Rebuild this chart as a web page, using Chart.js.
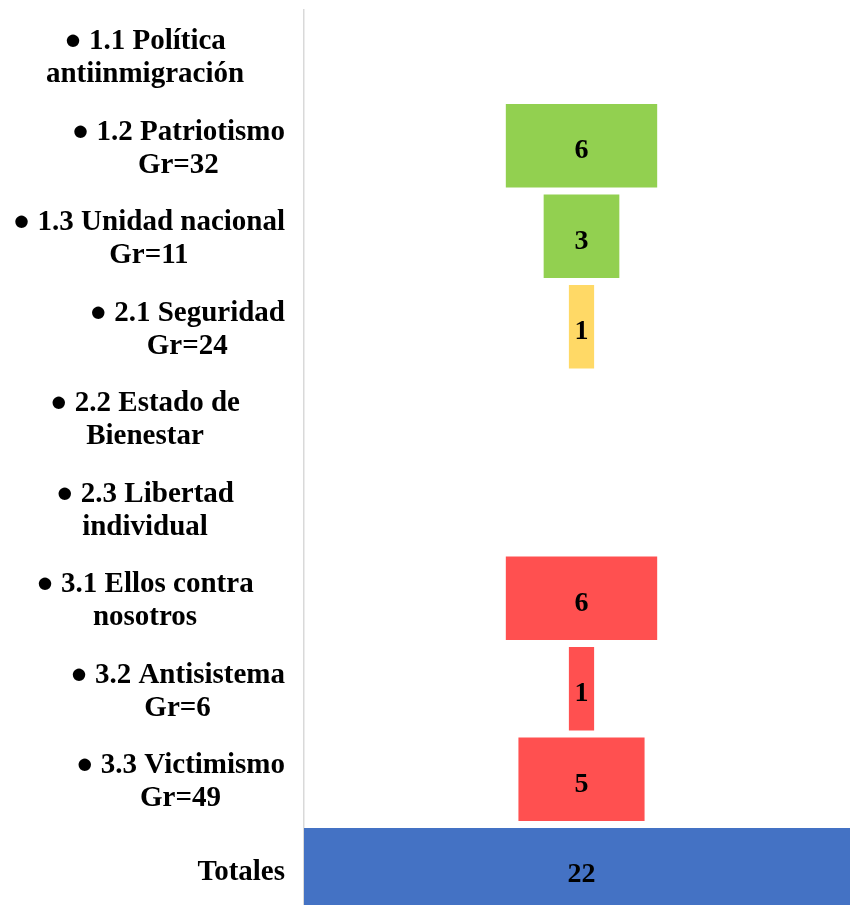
<!DOCTYPE html>
<html lang="es">
<head>
<meta charset="utf-8">
<title>Embudo de categorías</title>
<script src="https://cdn.jsdelivr.net/npm/chart.js@4.4.0/dist/chart.umd.min.js"></script>
<style>
  html, body { margin: 0; padding: 0; background: #fff; overflow: hidden; }
  #wrap { position: relative; width: 870px; height: 925px; }
</style>
</head>
<body>
<div id="wrap"><canvas id="chart"></canvas></div>
<script>
// categories (a "\n" is a hard line break, long ones wrap on their own)
const categories = [
  '● 1.1 Política antiinmigración',
  '● 1.2 Patriotismo\nGr=32',
  '● 1.3 Unidad nacional\nGr=11',
  '● 2.1 Seguridad\nGr=24',
  '● 2.2 Estado de Bienestar',
  '● 2.3 Libertad individual',
  '● 3.1 Ellos contra nosotros',
  '● 3.2 Antisistema\nGr=6',
  '● 3.3 Victimismo\nGr=49',
  'Totales'
]
const values = [0, 6, 3, 1, 0, 0, 6, 1, 5, 22]
const groups = ['1', '1', '1', '2', '2', '2', '3', '3', '3', 'total']

const groupColors = { '1': '#92D050', '2': '#FFD966', '3': '#FF5050', total: '#4472C4' }
const labelFont = 'bold 29px "Liberation Serif", "Times New Roman", serif'
const valueFont = 'bold 28px "Liberation Serif", "Times New Roman", serif'
const labelRight = 285
const wrapWidth = 280
const lineGap = 33

const total = Math.max(...values)
// funnel: every bar floats centred on the middle of the scale
const funnelData = values.map(v => [(total - v) / 2, (total + v) / 2])

function wrapLabel(ctx, text) {
  const parts = text.split('\n')
  if (parts.length > 1) return { lines: parts, wrapped: false }
  if (ctx.measureText(text).width <= wrapWidth) return { lines: [text], wrapped: false }
  const lines = []
  let cur = ''
  text.split(' ').forEach(w => {
    const test = cur ? cur + ' ' + w : w
    if (cur && ctx.measureText(test).width > wrapWidth) {
      lines.push(cur)
      cur = w
    } else {
      cur = test
    }
  })
  lines.push(cur)
  return { lines, wrapped: true }
}

const categoryLabels = {
  id: 'categoryLabels',
  afterDraw(chart) {
    const { ctx, scales: { y } } = chart
    ctx.save()
    ctx.font = labelFont
    ctx.fillStyle = '#000'
    ctx.textAlign = 'center'
    ctx.textBaseline = 'alphabetic'
    categories.forEach((text, i) => {
      const { lines, wrapped } = wrapLabel(ctx, text)
      const widest = Math.max(...lines.map(l => ctx.measureText(l).width))
      const cx = wrapped ? labelRight - wrapWidth / 2 : labelRight - widest / 2
      const cy = y.getPixelForValue(i)
      lines.forEach((line, j) => {
        const ly = cy + (j - (lines.length - 1) / 2) * lineGap
        ctx.fillText(line, cx, ly + 10.5)
      })
    })
    ctx.restore()
  }
}

const barValues = {
  id: 'barValues',
  afterDatasetsDraw(chart) {
    const { ctx } = chart
    const meta = chart.getDatasetMeta(0)
    ctx.save()
    ctx.font = valueFont
    ctx.fillStyle = '#000'
    ctx.textAlign = 'center'
    ctx.textBaseline = 'alphabetic'
    meta.data.forEach((bar, i) => {
      if (!values[i]) return
      const { x, y, base } = bar.getProps(['x', 'y', 'base'], true)
      ctx.fillText(String(values[i]), (x + base) / 2, y + 12.5)
    })
    ctx.restore()
  }
}

new Chart(document.getElementById('chart'), {
  type: 'bar',
  data: {
    labels: categories,
    datasets: [{
      data: funnelData,
      backgroundColor: groups.map(g => groupColors[g]),
      borderWidth: 0,
      borderSkipped: false,
      categoryPercentage: 1,
      barPercentage: 0.92
    }]
  },
  options: {
    indexAxis: 'y',
    responsive: true,
    maintainAspectRatio: false,
    animation: false,
    layout: { padding: { left: 304, right: 11, top: 10, bottom: 10 } },
    plugins: {
      legend: { display: false },
      tooltip: { enabled: false }
    },
    scales: {
      x: { display: false, min: 0, max: total },
      y: {
        ticks: { display: false },
        grid: { display: false, drawTicks: false },
        border: { display: true, color: '#d9d9d9', width: 1.5 }
      }
    }
  },
  plugins: [categoryLabels, barValues]
})
</script>
</body>
</html>
